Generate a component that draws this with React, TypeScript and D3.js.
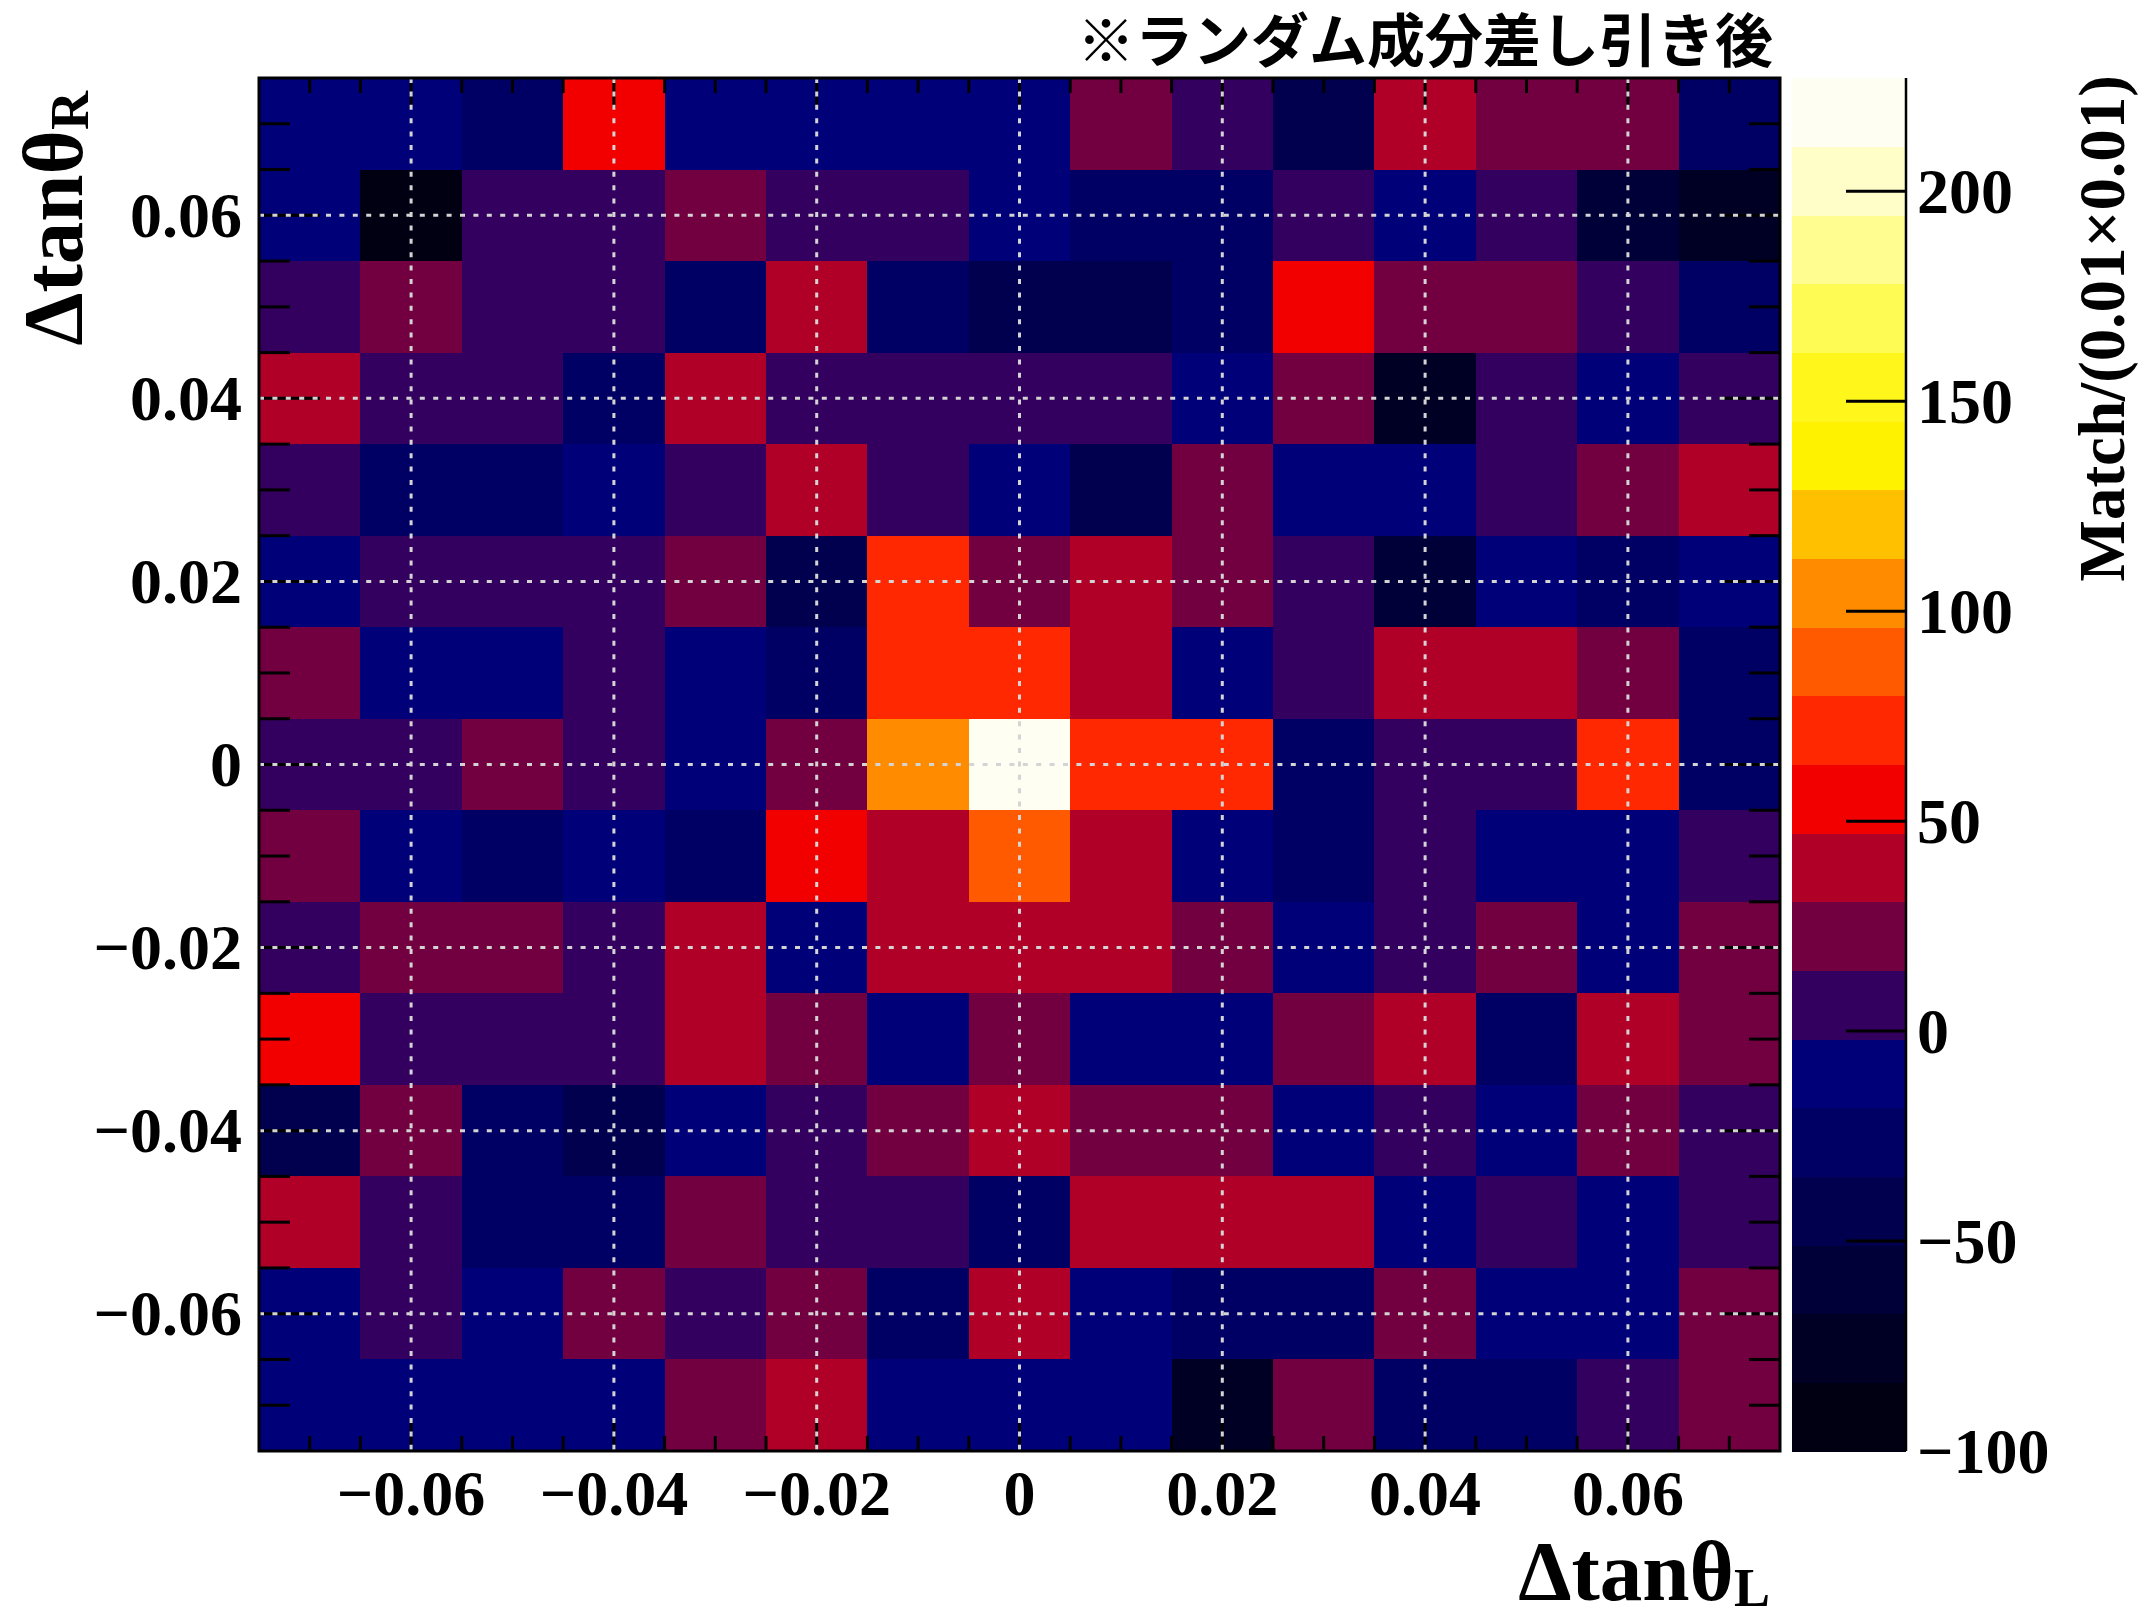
import React from 'react'
import * as d3 from 'd3'

// bin centres of the 15x15 histogram (rows listed top to bottom)
const xCenters = [-0.07, -0.06, -0.05, -0.04, -0.03, -0.02, -0.01, 0, 0.01, 0.02, 0.03, 0.04, 0.05, 0.06, 0.07]
const yCenters = [0.07, 0.06, 0.05, 0.04, 0.03, 0.02, 0.01, 0, -0.01, -0.02, -0.03, -0.04, -0.05, -0.06, -0.07]
const binWidth = 0.01

// Match counts after random subtraction, one array per y row
const matchRows = [
  [-10, -10, -25, 55, -8, -8, -8, -10, 22, 5, -45, 40, 22, 22, -25],
  [-10, -92, 5, 5, 22, 5, 5, -10, -25, -25, 5, -10, 5, -58, -75],
  [5, 22, 5, 5, -25, 40, -25, -42, -42, -25, 55, 22, 22, 5, -25],
  [40, 5, 5, -25, 40, 5, 5, 5, 5, -10, 22, -75, 5, -10, 5],
  [5, -25, -25, -10, 5, 40, 5, -10, -40, 22, -10, -10, 5, 22, 40],
  [-10, 5, 5, 5, 22, -42, 72, 22, 40, 22, 5, -55, -10, -25, -10],
  [22, -10, -10, 5, -10, -25, 72, 72, 40, -10, 5, 40, 40, 22, -25],
  [5, 5, 22, 5, -10, 22, 105, 227, 72, 72, -25, 5, 5, 72, -25],
  [22, -10, -25, -10, -25, 55, 40, 88, 40, -10, -25, 5, -10, -10, 5],
  [5, 22, 22, 5, 40, -10, 40, 40, 40, 22, -10, 5, 22, -10, 22],
  [55, 5, 5, 5, 40, 22, -10, 22, -10, -10, 22, 40, -30, 40, 22],
  [-45, 22, -25, -42, -10, 5, 22, 40, 22, 22, -10, 5, -10, 22, 5],
  [40, 5, -25, -25, 22, 5, 5, -30, 40, 40, 40, -10, 5, -10, 5],
  [-10, 5, -10, 22, 5, 22, -25, 40, -10, -25, -25, 22, -10, -10, 22],
  [-10, -10, -10, -10, 22, 40, -10, -10, -10, -70, 22, -25, -25, 5, 22],
]

const axisTicks = [-0.06, -0.04, -0.02, 0, 0.02, 0.04, 0.06]
const axisTickLabels = ['\u22120.06', '\u22120.04', '\u22120.02', '0', '0.02', '0.04', '0.06']
const zTicks = [-100, -50, 0, 50, 100, 150, 200]
const zTickLabels = ['\u2212100', '\u221250', '0', '50', '100', '150', '200']
const zMin = -100

// 20 contour colours, low to high
const palette = [
  '#000012', '#000024', '#000038', '#00004e', '#000064', '#000078',
  '#33005f', '#720040', '#b00028', '#f20000', '#ff2800', '#ff5a00',
  '#ff8c00', '#ffc000', '#fff200', '#fff71c', '#fffb55', '#fffd90',
  '#fffec8', '#fffef2',
]

const serif = '"Liberation Serif", "Times New Roman", serif'

export default function App() {
  const left = 259, right = 1780, top = 78, bottom = 1451
  const x = d3.scaleLinear().domain([-0.075, 0.075]).range([left, right])
  const y = d3.scaleLinear().domain([-0.075, 0.075]).range([bottom, top])
  const zMax = d3.max(matchRows.flat()) as number
  const color = d3.scaleQuantize<string>().domain([zMin, zMax]).range(palette)
  const z = d3.scaleLinear().domain([zMin, zMax]).range([bottom, top])
  const bandStep = (zMax - zMin) / palette.length

  const minor = d3.range(1, 30).map(i => -0.075 + i * 0.005)
  const barX0 = 1792, barX1 = 1906

  const cells: any[] = []
  matchRows.forEach((row, r) => {
    row.forEach((v, c) => {
      const x0 = x(xCenters[c] - binWidth / 2), x1 = x(xCenters[c] + binWidth / 2)
      const y0 = y(yCenters[r] + binWidth / 2), y1 = y(yCenters[r] - binWidth / 2)
      cells.push(
        <rect key={r + '-' + c} x={x0} y={y0} width={x1 - x0 + 0.5} height={y1 - y0 + 0.5}
          fill={color(v)} shapeRendering="crispEdges" />
      )
    })
  })

  return (
    <svg width={2152} height={1615} style={{ position: 'absolute', left: 0, top: 0, background: '#fff' }}>
      <rect x={0} y={0} width={2152} height={1615} fill="#fff" />
      {cells}

      {/* ticks */}
      <g stroke="#000" strokeWidth={3}>
        {minor.map((t, i) => {
          const major = axisTicks.some(a => Math.abs(a - t) < 1e-9)
          const lx = major ? 30 : 15
          const ly = major ? 61 : 31
          return (
            <g key={i}>
              <line x1={x(t)} x2={x(t)} y1={bottom} y2={bottom - lx} />
              <line x1={x(t)} x2={x(t)} y1={top} y2={top + lx} />
              <line x1={left} x2={left + ly} y1={y(t)} y2={y(t)} />
              <line x1={right} x2={right - ly} y1={y(t)} y2={y(t)} />
            </g>
          )
        })}
      </g>

      {/* dotted grid */}
      <g stroke="#d4d4d4" strokeWidth={3} strokeDasharray="5 8.4">
        {axisTicks.map((t, i) => (
          <g key={i}>
            <line x1={x(t)} x2={x(t)} y1={top} y2={bottom} />
            <line x1={left} x2={right} y1={y(t)} y2={y(t)} />
          </g>
        ))}
      </g>

      <rect x={left} y={top} width={right - left} height={bottom - top} fill="none" stroke="#000" strokeWidth={3} />

      {/* axis labels */}
      <g fontFamily={serif} fontWeight="bold" fontSize={64} fill="#000">
        {axisTicks.map((t, i) => (
          <text key={'x' + i} x={x(t)} y={1515} textAnchor="middle">{axisTickLabels[i]}</text>
        ))}
        {axisTicks.map((t, i) => (
          <text key={'y' + i} x={242} y={y(t)} textAnchor="end" dominantBaseline="central">{axisTickLabels[i]}</text>
        ))}
      </g>

      {/* axis titles */}
      <text x={1770} y={1600} textAnchor="end" fontFamily={serif} fontWeight="bold" fontSize={85}>
        {'\u0394tan\u03b8'}<tspan fontSize={54} dy={6}>L</tspan>
      </text>
      <text x={82} y={91} transform="rotate(-90 82 91)" textAnchor="end" fontFamily={serif} fontWeight="bold" fontSize={85}>
        {'\u0394tan\u03b8'}<tspan fontSize={54} dy={6}>R</tspan>
      </text>

      {/* colour bar */}
      {palette.map((c, i) => {
        const y0 = z(zMin + (i + 1) * bandStep), y1 = z(zMin + i * bandStep)
        return <rect key={'b' + i} x={barX0} y={y0} width={barX1 - barX0} height={y1 - y0 + 0.5} fill={c} shapeRendering="crispEdges" />
      })}
      <line x1={barX1} x2={barX1} y1={top} y2={bottom} stroke="#000" strokeWidth={2.5} />
      <g stroke="#000" strokeWidth={3}>
        {zTicks.filter(t => t > zMin).map((t, i) => (
          <line key={i} x1={barX1} x2={barX1 - 60} y1={z(t)} y2={z(t)} />
        ))}
      </g>
      <g fontFamily={serif} fontWeight="bold" fontSize={64} fill="#000">
        {zTicks.map((t, i) => (
          <text key={i} x={1917} y={z(t)} dominantBaseline="central">{zTickLabels[i]}</text>
        ))}
      </g>
      <text x={2124} y={75} transform="rotate(-90 2124 75)" textAnchor="end" fontFamily={serif} fontWeight="bold" fontSize={65}>
        Match/(0.01×0.01)
      </text>

      {/* note */}
      <text x={1773} y={62} textAnchor="end" fontFamily='"Noto Sans CJK JP", sans-serif' fontWeight="bold" fontSize={58}>
        ※ランダム成分差し引き後
      </text>
    </svg>
  )
}
